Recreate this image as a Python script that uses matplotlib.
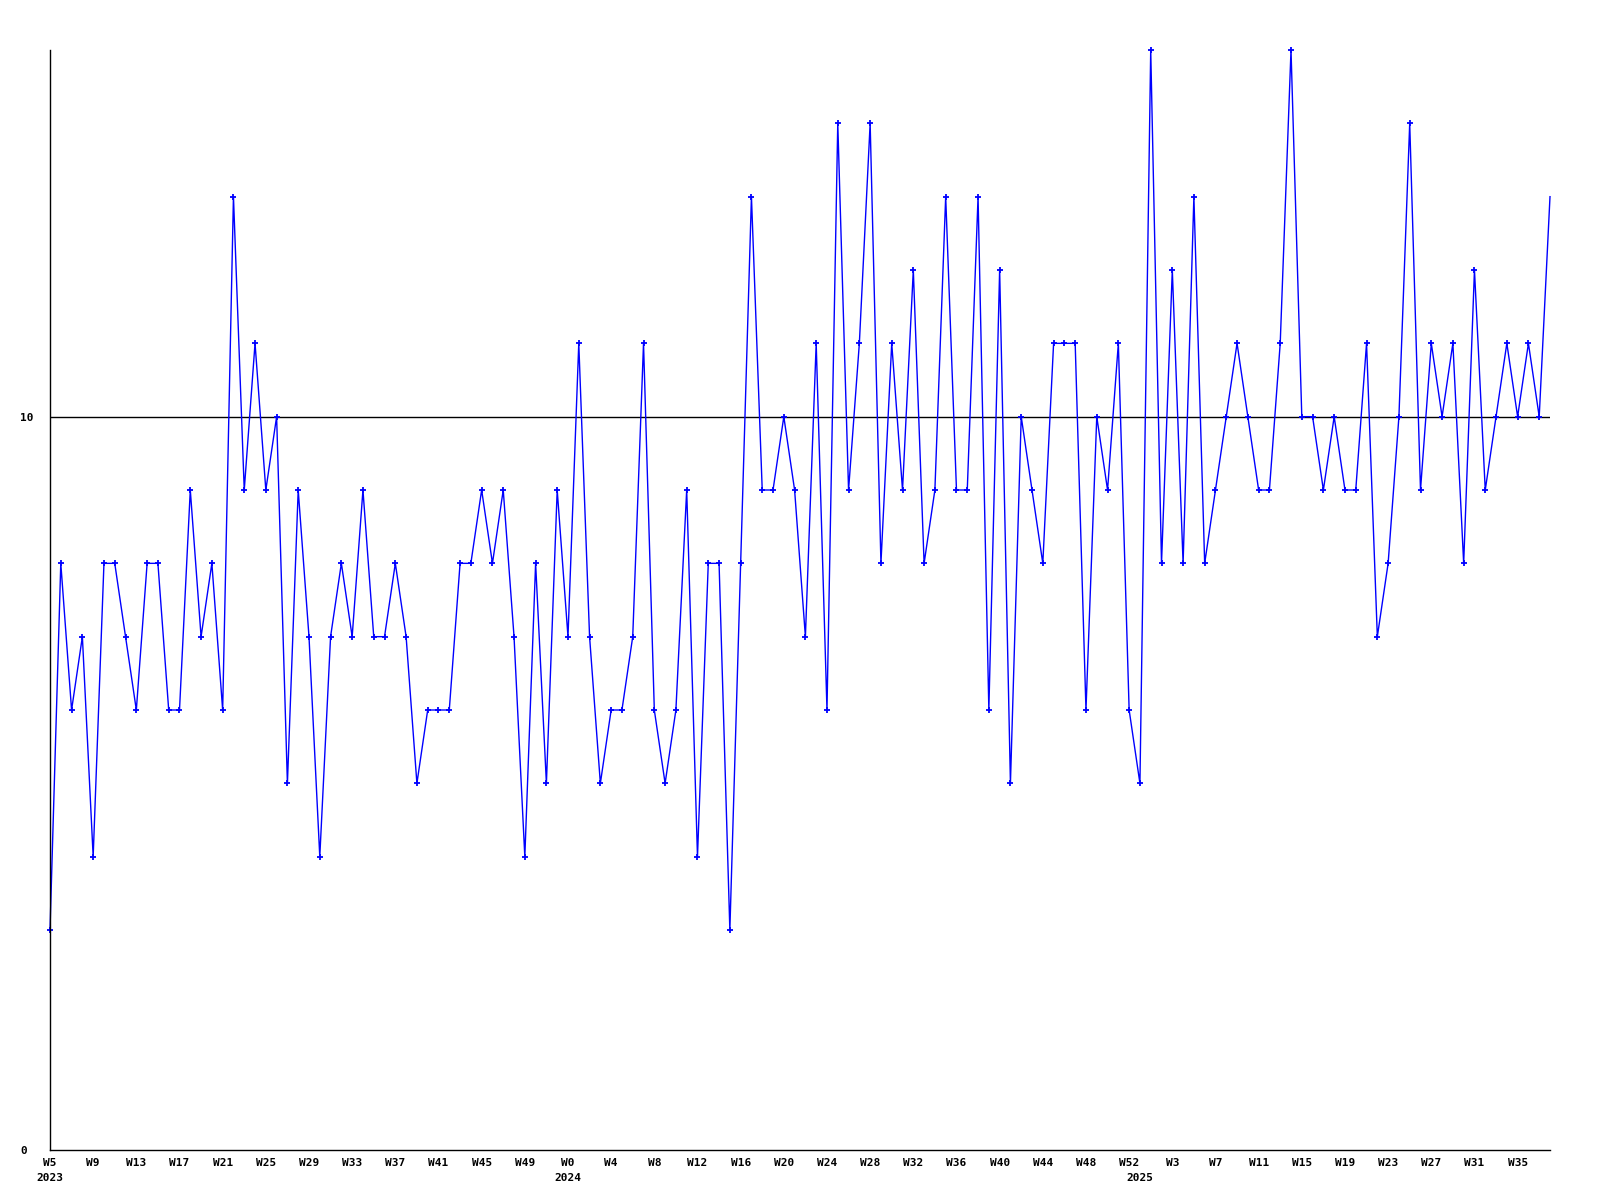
import matplotlib
matplotlib.use("Agg")
import matplotlib.pyplot as plt

# week numbers per year (strftime %U style, so years start at W0)
weeks_2023 = list(range(5, 53))
weeks_2024 = list(range(0, 53))
weeks_2025 = list(range(0, 39))

values = [
    3, 8, 6, 7, 4, 8, 8, 7, 6, 8, 8, 6, 6, 9, 7, 8, 6, 13, 9, 11,
    9, 10, 5, 9, 7, 4, 7, 8, 7, 9, 7, 7, 8, 7, 5, 6, 6, 6, 8, 8,
    9, 8, 9, 7, 4, 8, 5, 9, 7, 11, 7, 5, 6, 6, 7, 11, 6, 5, 6, 9,
    4, 8, 8, 3, 8, 13, 9, 9, 10, 9, 7, 11, 6, 14, 9, 11, 14, 8, 11, 9,
    12, 8, 9, 13, 9, 9, 13, 6, 12, 5, 10, 9, 8, 11, 11, 11, 6, 10, 9, 11,
    6, 5, 15, 8, 12, 8, 13, 8, 9, 10, 11, 10, 9, 9, 11, 15, 10, 10, 9, 10,
    9, 9, 11, 7, 8, 10, 14, 9, 11, 10, 11, 8, 12, 9, 10, 11, 10, 11, 10, 13,
]

years = ["2023", "2024", "2025"]
ref_line = 10

week_labels = ["W%d" % w for w in weeks_2023 + weeks_2024 + weeks_2025]
year_starts = [0, len(weeks_2023), len(weeks_2023) + len(weeks_2024)]
x = list(range(len(values)))

font = dict(family="DejaVu Sans Mono", weight="bold", size=8)

fig = plt.figure(figsize=(16, 12), dpi=100)
ax = fig.add_axes([50 / 1600, 50 / 1200, 1500 / 1600, 1100 / 1200])

ax.axhline(ref_line, color="black", lw=1, zorder=1)
ax.plot(x, values, color="#0000ff", lw=1, marker="+", ms=4, mew=1.3,
        markevery=list(range(len(values) - 1)), zorder=2, clip_on=False)

ax.set_xlim(0, len(values) - 1)
ax.set_ylim(0, 15)

for s in ["top", "right"]:
    ax.spines[s].set_visible(False)
for s in ["left", "bottom"]:
    ax.spines[s].set_color("black")
    ax.spines[s].set_linewidth(1)

ax.set_yticks([0, 10])
ax.set_yticklabels(["0", "10"], fontdict=font, ha="left")
ax.tick_params(axis="y", length=0, pad=21.6)

ticks = x[::4]
ax.set_xticks(ticks)
ax.set_xticklabels([week_labels[i] for i in ticks], fontdict=font)
ax.tick_params(axis="x", length=0, pad=6)

for i, yr in zip(year_starts, years):
    ax.annotate(yr, xy=(i, 0), xycoords=("data", "axes fraction"),
                xytext=(0, -28), textcoords="offset pixels",
                ha="center", va="center", **font)

fig.savefig("out.png", dpi=100)
